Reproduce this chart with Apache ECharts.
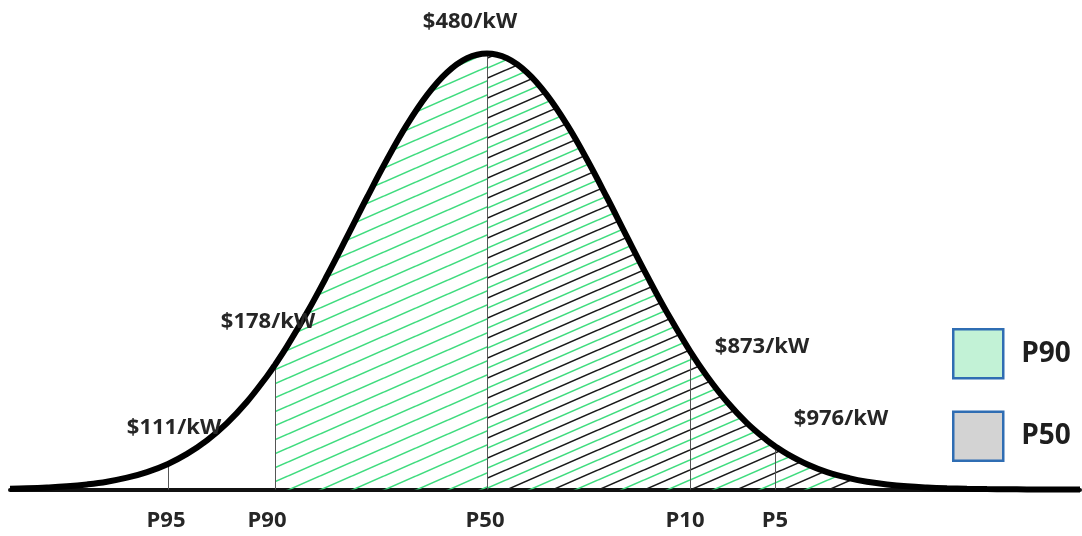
<!DOCTYPE html>
<html>
<head>
<meta charset="utf-8">
<script src="https://cdn.jsdelivr.net/npm/echarts@6/dist/echarts.min.js"></script>
<style>
html,body{margin:0;padding:0;background:#fff;}
#chart{width:1082px;height:536px;}
</style>
</head>
<body>
<div id="chart"></div>
<script>
// Bell curve (x position, height above baseline)
const curveX = [10, 27, 47, 67, 87, 107, 127, 147, 168, 187, 207, 227, 247, 267, 275, 287, 307, 327, 347, 367, 387, 407, 427, 447, 467, 487, 507, 527, 547, 567, 587, 607, 627, 647, 667, 690, 707, 727, 747, 767, 775, 787, 807, 827, 850, 867, 887, 907, 927, 947, 967, 987, 1007, 1027, 1047, 1067, 1080];
const curveY = [0.8, 1.2, 2.0, 3.2, 5.1, 7.8, 11.8, 17.4, 25.6, 35.6, 49.1, 66.4, 87.7, 113.3, 124.7, 143.1, 176.9, 213.8, 252.6, 292.0, 330.0, 364.8, 394.4, 417.0, 431.2, 436.0, 431.2, 417.0, 394.4, 364.8, 330.0, 292.0, 252.6, 213.8, 176.9, 138.4, 113.3, 87.7, 66.4, 49.1, 43.3, 35.6, 25.2, 17.4, 11.1, 7.8, 5.1, 3.2, 2.0, 1.2, 0.7, 0.4, 0.2, 0.1, 0, 0, 0];

// Percentile markers and their tick labels
const pLabels = ['P95', 'P90', 'P50', 'P10', 'P5'];
const pX = [168, 275, 487, 690, 775];
const pLabelX = [166, 267, 485, 685, 775];
const pLabelY = -31.5;

// Price annotations
const priceText = ['$111/kW', '$178/kW', '$480/kW', '$873/kW', '$976/kW'];
const priceX = [174, 268, 470, 762, 841];
const priceY = [61.5, 167.5, 467.5, 142.5, 70.5];

// Shaded ranges
const p90Range = [275, 487];
const p50Range = [487, 850];
const legendNames = ['P90', 'P50'];

function hatch(W, H, lines) {
  const c = document.createElement('canvas');
  c.width = W; c.height = H;
  const g = c.getContext('2d');
  lines.forEach(([color, off, lw]) => {
    g.strokeStyle = color;
    g.lineWidth = lw;
    for (const dy of [-H, 0, H]) {
      g.beginPath();
      g.moveTo(0, off + dy);
      g.lineTo(W, off + dy - H);
      g.stroke();
    }
  });
  return c;
}
const GREEN = '#3fdc7e';
const greenPattern = { image: hatch(32, 14, [[GREEN, 14, 1.6]]), repeat: 'repeat' };
const mixPattern = { image: hatch(46, 20, [[GREEN, 20, 1.6], ['#1a1a1a', 10, 1.5]]), repeat: 'repeat' };

const curve = curveX.map((x, i) => [x, curveY[i]]);
function heightAt(x) { return curveY[curveX.indexOf(x)]; }
function slice(r) { return curve.filter(p => p[0] >= r[0] && p[0] <= r[1]); }

const FONT = 'Open Sans';
const TEXT = '#262626';
const labelStyle = {
  show: true, position: 'inside', formatter: p => p.name,
  fontFamily: FONT, fontWeight: 'bold', fontSize: 22, color: TEXT, opacity: 1
};
const chart = echarts.init(document.getElementById('chart'));
chart.setOption({
  animation: false,
  backgroundColor: '#fff',
  grid: { left: 10, right: 2, top: 0, bottom: 0, containLabel: false, outerBoundsMode: 'none' },
  xAxis: {
    type: 'value', min: 10, max: 1080,
    splitLine: { show: false },
    axisTick: { show: false },
    axisLabel: { show: false },
    axisLine: { onZero: true, lineStyle: { color: '#111', width: 4 } }
  },
  yAxis: { type: 'value', min: -46.5, max: 489.5, show: false },
  legend: {
    orient: 'vertical', left: 947, top: 323,
    itemWidth: 50, itemHeight: 49, itemGap: 31,
    icon: 'rect',
    textStyle: { fontFamily: FONT, fontWeight: 'bold', fontSize: 28, color: '#1e1e1e', padding: [0, 0, 0, 13] },
    data: [
      { name: legendNames[0], itemStyle: { color: '#c2f2d6', borderColor: '#2f6db3', borderWidth: 2.5 } },
      { name: legendNames[1], itemStyle: { color: '#d3d3d3', borderColor: '#2f6db3', borderWidth: 2.5 } }
    ]
  },
  series: [
    {
      name: legendNames[0], type: 'line', data: slice(p90Range), smooth: 0.4,
      symbol: 'none', lineStyle: { width: 0 }, z: 1,
      areaStyle: { color: greenPattern, opacity: 1 }
    },
    {
      name: legendNames[1], type: 'line', data: slice(p50Range), smooth: 0.4,
      symbol: 'none', lineStyle: { width: 0 }, z: 1,
      areaStyle: { color: mixPattern, opacity: 1 }
    },
    {
      name: 'curve', type: 'line', data: curve, smooth: 0.4,
      symbol: 'none', z: 4,
      lineStyle: { color: '#000', width: 6 },
      markLine: {
        silent: true, symbol: 'none', z: 3,
        label: { show: false },
        lineStyle: { color: '#555', width: 1, type: 'solid' },
        data: pX.map(x => [{ coord: [x, 0] }, { coord: [x, heightAt(x)] }])
      }
    },
    {
      name: 'priceLabels', type: 'scatter', symbolSize: 0, z: 6, clip: false,
      itemStyle: { opacity: 1 },
      data: priceText.map((t, i) => ({ name: t, value: [priceX[i], priceY[i]] })),
      label: labelStyle
    },
    {
      name: 'percentileLabels', type: 'scatter', symbolSize: 0, z: 6, clip: false,
      itemStyle: { opacity: 1 },
      data: pLabels.map((t, i) => ({ name: t, value: [pLabelX[i], pLabelY] })),
      label: labelStyle
    }
  ]
});
</script>
</body>
</html>
